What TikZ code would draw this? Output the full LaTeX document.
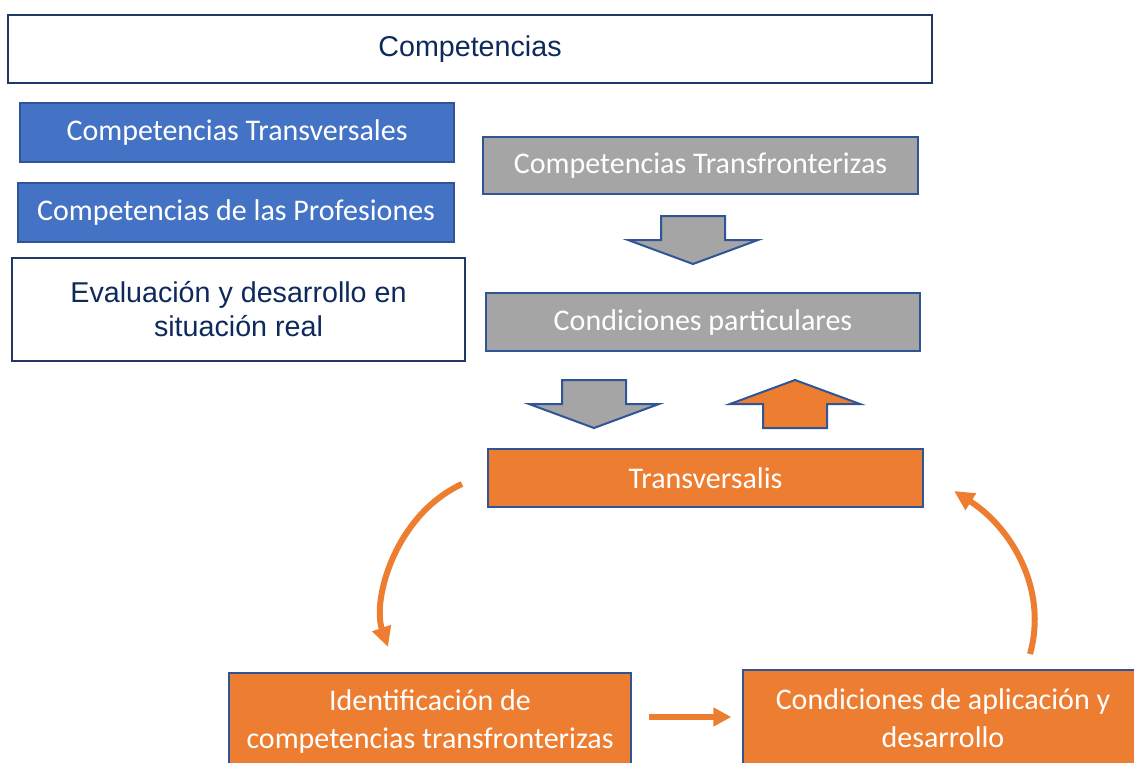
\documentclass[tikz,border=0pt]{standalone}
\usepackage{fontspec}
\setmainfont{Carlito}
\newfontfamily\arialfont{Liberation Sans}
\usetikzlibrary{arrows.meta,positioning,calc}
\definecolor{navyline}{HTML}{1F3864}
\definecolor{navytext}{HTML}{0E2A5C}
\definecolor{blueline}{HTML}{2F5597}
\definecolor{bluebox}{HTML}{4472C4}
\definecolor{greybox}{HTML}{A5A5A5}
\definecolor{orangebox}{HTML}{ED7D31}

\begin{document}
\begin{tikzpicture}[
      x=0.75pt,y=-0.75pt,
      whitebox/.style={
         rectangle,
         draw=navyline,
         line width=1.3pt,
         fill=white,
         text=navytext,
         align=center,
         font=\arialfont\fontsize{21.5}{25.5}\selectfont
      },
      colourbox/.style={
         rectangle,
         draw=blueline,
         line width=1.5pt,
         text=white,
         align=center,
         font=\fontsize{22.5}{28.5}\selectfont
      },
      bluecomp/.style={colourbox,fill=bluebox},
      greycomp/.style={colourbox,fill=greybox},
      orangecomp/.style={colourbox,fill=orangebox},
      loop arrow/.style={
         draw=orangebox,
         line width=4.5pt,
         -{Triangle[length=15pt,width=14pt]}
      },
      blockarrow/.pic={
         \draw[pic actions,draw=blueline,line width=1.5pt,line join=miter]
            (-32,0) -- (32,0) -- (32,24) -- (65,24) -- (0,48)
            -- (-65,24) -- (-32,24) -- cycle;
      }
    ]
    \useasboundingbox (0,0) rectangle (1134,763);
    \clip (0,0) rectangle (1134,763);

    % left column
    \node (comp) [whitebox, minimum width=693pt, minimum height=51pt] at (470,49) {Competencias};
    \node (transv) [bluecomp, minimum width=325.5pt, minimum height=44.25pt] at (237,132.5) {Competencias Transversales};
    \node (prof) [bluecomp, minimum width=327pt, minimum height=44.25pt] at (236,212.5) {Competencias de las Profesiones};
    \node (eval) [whitebox, minimum width=339.75pt, minimum height=77.25pt] at (238.5,309.5) {Evaluación y desarrollo en\\situación real};

    % right column
    \node (transf) [greycomp, minimum width=326.25pt, minimum height=42.75pt] at (700.5,165.5) {Competencias Transfronterizas};
    \node (partic) [greycomp, minimum width=325.5pt, minimum height=43.5pt] at (703,322) {Condiciones particulares};
    \node (trans) [orangecomp, minimum width=326.25pt, minimum height=43.5pt] at (705.5,478) {Transversalis};

    % block arrows
    \pic[fill=greybox] at (693,216) {blockarrow};
    \pic[fill=greybox] at (594,380) {blockarrow};
    \pic[fill=orangebox, rotate=180] at (795,428) {blockarrow};

    % bottom row
    \node (ident) [orangecomp, minimum width=301.5pt, minimum height=72pt] at (430,721) {Identificación de\\competencias transfronterizas};
    \node (cond) [orangecomp, minimum width=300pt, minimum height=72pt] at (943,718) {Condiciones de aplicación y\\desarrollo};

    % cycle
    \draw[loop arrow] ($(trans.west)+(-25,6)$) .. controls (395,515) and (372,600) .. ($(ident.north)+(-42,-25)$);
    \draw[loop arrow, -{Triangle[length=13.5pt,width=13.5pt]}, shorten <=17*0.75pt, shorten >=8pt] (ident.east |- 0,717) -- (cond.west |- 0,717);
    \draw[loop arrow] ($(cond.north)+(87,-15)$) .. controls (1048,590) and (1012,528) .. ($(trans.south east)+(30,-17)$);
\end{tikzpicture}
\end{document}
